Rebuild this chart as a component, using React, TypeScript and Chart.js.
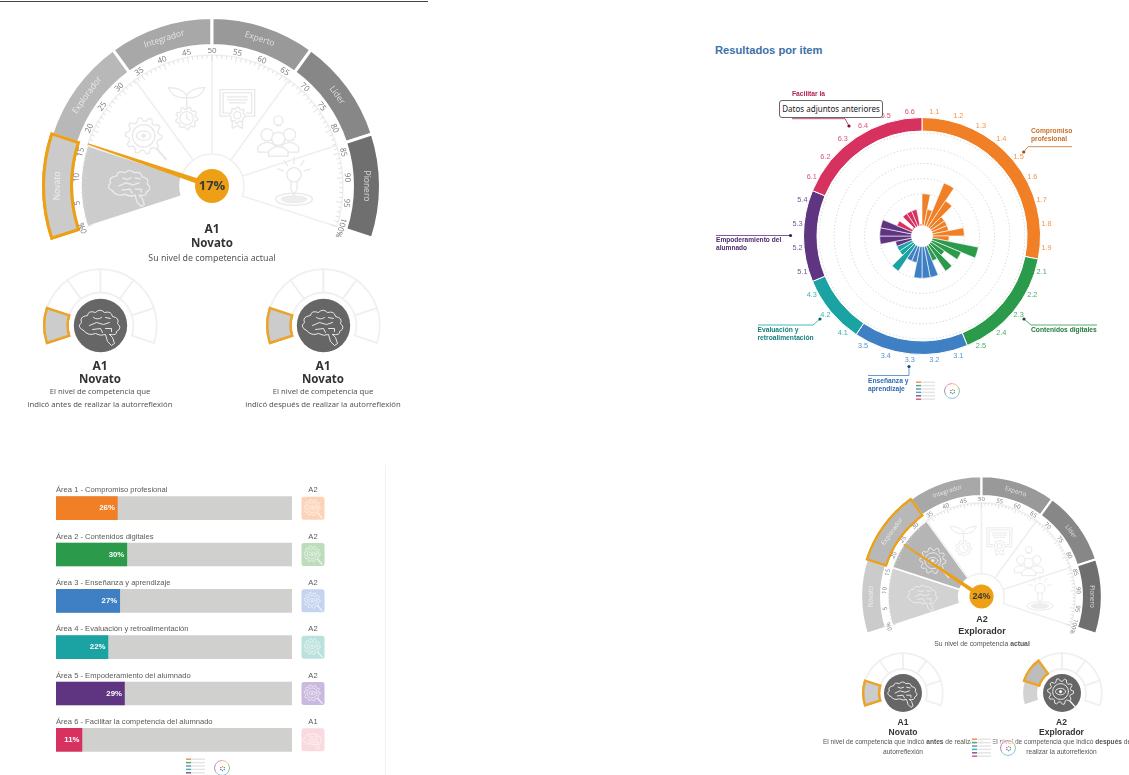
import React, { useEffect, useRef } from "react";
import { Chart, registerables } from "chart.js";

Chart.register(...registerables);

const levelNames = ["Novato", "Explorador", "Integrador", "Experto", "Líder", "Pionero"];
const levelColors = ["#cbcbcb", "#b8b8b8", "#a8a8a8", "#999999", "#878787", "#6f6f6f"];
const levelShares = [1, 1, 1, 1, 1, 1, 4];
const iconNames = ["brain", "gear", "plant", "cert", "people", "bulb"];
const tickLabels = ["0%", "5", "10", "15", "20", "25", "30", "35", "40", "45", "50", "55", "60", "65", "70", "75", "80", "85", "90", "95", "100%"];

const areaNames = [
  "Área 1 - Compromiso profesional",
  "Área 2 - Contenidos digitales",
  "Área 3 - Enseñanza y aprendizaje",
  "Área 4 - Evaluación y retroalimentación",
  "Área 5 - Empoderamiento del alumnado",
  "Área 6 - Facilitar la competencia del alumnado",
];
const areaPercent = [26, 30, 27, 22, 29, 11];
const areaLevel = ["A2", "A2", "A2", "A2", "A2", "A1"];
const areaColors = ["#f07f26", "#2b9a4b", "#3f80c4", "#1ba3a3", "#5f3481", "#d7325f"];
const areaPale = ["#fdd3b8", "#bcdcbc", "#c4d3f0", "#bbe1dd", "#c9b9de", "#f9dade"];
const areaItemCounts = [9, 5, 5, 3, 4, 6];
const areaFull = [100, 100, 100, 100, 100, 100];

const itemCodes = [
  "1.1", "1.2", "1.3", "1.4", "1.5", "1.6", "1.7", "1.8", "1.9",
  "2.1", "2.2", "2.3", "2.4", "2.5",
  "3.1", "3.2", "3.3", "3.4", "3.5",
  "4.1", "4.2", "4.3",
  "5.1", "5.2", "5.3", "5.4",
  "6.1", "6.2", "6.3", "6.4", "6.5", "6.6",
];
const itemValues = [
  33.33, 16.67, 50, 33.33, 16.67, 16.67, 16.67, 33.33, 16.67,
  50, 33.33, 16.67, 33.33, 16.67,
  33.33, 33.33, 33.33, 16.67, 16.67,
  33.33, 16.67, 16.67,
  16.67, 33.33, 33.33, 33.33,
  16.67, 0, 16.67, 16.67, 16.67, 0,
];
const itemGrid = [0, 16.67, 33.33, 50, 66.67, 83.33, 100];

const ORANGE = "#eda015";

const itemColors = itemCodes.map((_, i) => {
  let n = 0;
  for (let a = 0; a < areaItemCounts.length; a++) {
    n += areaItemCounts[a];
    if (i < n) return areaColors[a];
  }
  return areaColors[0];
});

function lobePath(c: any, pts: number[][]) {
  c.beginPath();
  c.moveTo(pts[0][0], pts[0][1]);
  for (let i = 1; i < pts.length; i++) {
    const [x0, y0] = pts[i - 1];
    const [x1, y1] = pts[i];
    const mx = (x0 + x1) / 2, my = (y0 + y1) / 2;
    c.quadraticCurveTo(mx * 1.35, my * 1.35, x1, y1);
  }
  c.stroke();
}

function gearShape(c: any, x: number, y: number, r: number, teeth: number) {
  c.beginPath();
  for (let i = 0; i < teeth * 4; i++) {
    const a = (i / (teeth * 4)) * Math.PI * 2;
    const rr = i % 4 < 2 ? r : r * 0.8;
    const px = x + rr * Math.cos(a), py = y + rr * Math.sin(a);
    if (i === 0) c.moveTo(px, py); else c.lineTo(px, py);
  }
  c.closePath();
  c.stroke();
}

function drawIcon(c: any, name: string, x: number, y: number, s: number, color: string, lw: number, paper = "#ffffff") {
  c.save();
  c.translate(x, y);
  c.scale(s, s);
  c.strokeStyle = color;
  c.fillStyle = color;
  c.lineWidth = lw / s;
  c.lineCap = "round";
  c.lineJoin = "round";
  if (name === "brain") {
    lobePath(c, [[-17, 5], [-19, -3], [-13, -10], [-5, -13], [4, -13], [12, -9], [17, -2], [16, 6], [9, 9]]);
    c.beginPath();
    c.moveTo(-17, 5); c.quadraticCurveTo(-12, 11, -5, 8); c.quadraticCurveTo(0, 11, 5, 9);
    c.lineTo(7, 16); c.lineTo(11, 20); c.lineTo(14, 18); c.lineTo(12, 12); c.lineTo(9, 9);
    c.stroke();
    c.beginPath();
    c.moveTo(-11, 0); c.lineTo(-4, -3); c.lineTo(3, -1); c.lineTo(9, -3);
    c.moveTo(-7, -8); c.quadraticCurveTo(-3, -5, 1, -8); c.moveTo(-8, 4); c.lineTo(0, 3); c.lineTo(2, 7);
    c.moveTo(5, 3); c.lineTo(11, 3); c.lineTo(11, 6); c.moveTo(5, -8); c.lineTo(10, -7);
    c.stroke();
  } else if (name === "gear") {
    gearShape(c, -2, -2, 18, 10);
    c.beginPath(); c.arc(-2, -2, 11, 0, 7); c.stroke();
    c.beginPath(); c.ellipse(-2, -2, 7, 4.5, 0, 0, 7); c.stroke();
    c.beginPath(); c.arc(-2, -2, 2.2, 0, 7); c.fill();
    c.beginPath(); c.moveTo(11, 11); c.lineTo(20, 21); c.lineWidth = (lw * 1.6) / s; c.stroke();
  } else if (name === "plant") {
    c.beginPath();
    c.moveTo(0, 0); c.lineTo(0, -12);
    c.moveTo(0, -12); c.quadraticCurveTo(-4, -20, -18, -20); c.quadraticCurveTo(-14, -9, 0, -10);
    c.moveTo(0, -12); c.quadraticCurveTo(4, -20, 18, -20); c.quadraticCurveTo(14, -9, 0, -10);
    c.stroke();
    gearShape(c, 0, 10, 11, 9);
    c.beginPath(); c.arc(0, 10, 6.5, 0, 7); c.moveTo(0, 6); c.lineTo(0, 10); c.lineTo(3, 12); c.stroke();
  } else if (name === "cert") {
    c.strokeRect(-17, -18, 34, 26);
    c.strokeRect(-14, -15, 28, 20);
    c.beginPath(); c.moveTo(-10, -11); c.lineTo(10, -11); c.moveTo(-10, -8); c.lineTo(10, -8); c.moveTo(-8, -5); c.lineTo(8, -5); c.stroke();
    c.save(); c.fillStyle = paper; c.beginPath(); c.arc(0, 7, 9, 0, 7); c.fill(); c.restore();
    gearShape(c, 0, 7, 8, 8);
    c.beginPath(); c.arc(0, 7, 3.5, 0, 7);
    c.moveTo(-5, 13); c.lineTo(-5, 20); c.lineTo(0, 17); c.lineTo(5, 20); c.lineTo(5, 13); c.stroke();
  } else if (name === "people") {
    c.beginPath(); c.arc(0, -17, 4.5, 0, 7); c.moveTo(-2, -12); c.lineTo(2, -12); c.stroke();
    for (const [px, py, r] of [[-11, -3, 6], [11, -3, 6], [0, 1, 6.5]]) {
      c.save(); c.fillStyle = paper;
      c.beginPath(); c.arc(px, py, r, 0, 7); c.fill(); c.stroke();
      c.beginPath(); c.moveTo(px - r - 3, py + 17); c.lineTo(px - r - 3, py + 12); c.quadraticCurveTo(px, py + 3, px + r + 3, py + 12); c.lineTo(px + r + 3, py + 17);
      c.closePath(); c.fill(); c.stroke(); c.restore();
    }
  } else if (name === "bulb") {
    c.beginPath(); c.arc(0, -11, 7, 0, 7); c.stroke();
    c.beginPath(); c.moveTo(-3, -5); c.lineTo(-3, 3); c.lineTo(0, 9); c.lineTo(3, 3); c.lineTo(3, -5); c.stroke();
    c.beginPath();
    for (const a of [-160, -125, -90, -55, -20]) {
      const t = (a * Math.PI) / 180;
      c.moveTo(11 * Math.cos(t), -11 + 11 * Math.sin(t));
      c.lineTo(17 * Math.cos(t), -11 + 17 * Math.sin(t));
    }
    c.stroke();
    c.beginPath(); c.ellipse(0, 13, 18, 6, 0, 0, 7); c.stroke();
    c.save(); c.globalAlpha = 0.8;
    c.beginPath(); c.ellipse(0, 13, 13, 4, 0, 0, 7); c.fill();
    c.restore();
  }
  c.restore();
}

function useChart(make: (cv: HTMLCanvasElement) => any) {
  const ref = useRef<HTMLCanvasElement | null>(null);
  useEffect(() => {
    if (!ref.current) return;
    const chart = new Chart(ref.current, make(ref.current));
    return () => chart.destroy();
  }, []);
  return ref;
}

const baseOptions = {
  animation: false,
  responsive: false,
  maintainAspectRatio: false,
  events: [],
  plugins: { legend: { display: false }, tooltip: { enabled: false } },
};

function pctAngle(p: number) {
  return ((-108 + p * 2.16 - 90) * Math.PI) / 180;
}

function BigGauge({ cx, cy, k, selected, filled, value, tickFont, bandFont, valueFont }: any) {
  const R = 168.5 * k;
  const W = Math.ceil(2 * R + 3 * k);
  const ref = useChart(() => ({
    type: "doughnut",
    data: {
      labels: [...levelNames, ""],
      datasets: [
        {
          data: levelShares,
          weight: 28,
          backgroundColor: levelShares.map((_, i) => (i < 6 ? levelColors[i] : "transparent")),
          borderColor: levelShares.map((_, i) => (i === 6 ? "transparent" : i === selected ? ORANGE : "#ffffff")),
          borderWidth: levelShares.map((_, i) => (i === 6 ? 0 : 3 * k)),
          borderJoinStyle: "miter",
        },
        { data: levelShares, weight: 9.5, backgroundColor: "transparent", borderWidth: 0 },
        {
          data: levelShares,
          weight: 99,
          backgroundColor: levelShares.map((_, i) => (i < 6 ? filled[i] || "#ffffff" : "transparent")),
          borderColor: levelShares.map((_, i) => (i === 6 ? "transparent" : filled[i] ? "#ffffff" : "#f0f0f0")),
          borderWidth: levelShares.map((_, i) => (i === 6 ? 0 : 1.6)),
          borderJoinStyle: "miter",
        },
      ],
    },
    options: { ...baseOptions, rotation: -108, circumference: 360, cutout: 32 * k },
    plugins: [
      {
        id: "gaugeDetail",
        afterDatasetsDraw(chart: any) {
          const c = chart.ctx;
          const band = chart.getDatasetMeta(0).data;
          const wedges = chart.getDatasetMeta(2).data;
          const x0 = band[0].x, y0 = band[0].y;
          const rT = wedges[0].outerRadius;
          const rB = (band[0].innerRadius + band[0].outerRadius) / 2;
          band[selected].draw(c);
          c.save();
          for (let p = 0; p <= 100; p++) {
            const a = pctAngle(p);
            const len = (p % 5 === 0 ? 6 : 3.6) * k;
            c.strokeStyle = "#d6d6d6";
            c.lineWidth = 0.7;
            c.beginPath();
            c.moveTo(x0 + (rT - len) * Math.cos(a), y0 + (rT - len) * Math.sin(a));
            c.lineTo(x0 + rT * Math.cos(a), y0 + rT * Math.sin(a));
            c.stroke();
          }
          c.textAlign = "center";
          c.textBaseline = "middle";
          c.font = tickFont;
          c.fillStyle = "#7a7a7a";
          tickLabels.forEach((t, i) => {
            const p = i * 5;
            const a = pctAngle(p);
            c.save();
            c.translate(x0 + (rT + 4.5 * k) * Math.cos(a), y0 + (rT + 4.5 * k) * Math.sin(a));
            c.rotate(a + Math.PI / 2);
            c.fillText(t, 0, 0);
            c.restore();
          });
          c.font = bandFont;
          c.fillStyle = "rgba(255,255,255,0.7)";
          levelNames.forEach((t, i) => {
            const a = pctAngle(((i + 0.5) * 100) / 6);
            c.save();
            c.translate(x0 + rB * Math.cos(a), y0 + rB * Math.sin(a));
            c.rotate(a + Math.PI / 2);
            c.fillText(t, 0, 0);
            c.restore();
          });
          iconNames.forEach((n, i) => {
            const a = pctAngle(((i + 0.5) * 100) / 6);
            const col = filled[i] ? "#ececec" : "#e8e8e8";
            drawIcon(c, n, x0 + 82 * k * Math.cos(a), y0 + 82 * k * Math.sin(a), 1.02 * k, col, 1.3 * k, filled[i] || "#ffffff");
          });
          const a = pctAngle(value);
          const nx = Math.cos(a), ny = Math.sin(a);
          c.fillStyle = ORANGE;
          c.beginPath();
          c.moveTo(x0 - ny * 3 * k, y0 + nx * 3 * k);
          c.lineTo(x0 + nx * rT - ny * 0.7, y0 + ny * rT + nx * 0.7);
          c.lineTo(x0 + nx * rT + ny * 0.7, y0 + ny * rT - nx * 0.7);
          c.lineTo(x0 + ny * 3 * k, y0 - nx * 3 * k);
          c.closePath();
          c.fill();
          c.beginPath();
          c.arc(x0, y0, 17 * k, 0, 7);
          c.fill();
          c.fillStyle = "#3a3a3a";
          c.font = valueFont;
          c.fillText(`${value}%`, x0, y0 + 0.5);
          c.restore();
        },
      },
    ],
  }));
  return <canvas ref={ref} width={W} height={W} style={{ position: "absolute", left: cx - W / 2, top: cy - W / 2 }} />;
}

function MiniGauge({ cx, cy, outer, inner, hub, iconScale, selected, filled }: any) {
  const W = Math.ceil(2 * outer + 3);
  const ref = useChart(() => ({
    type: "doughnut",
    data: {
      labels: [...levelNames, ""],
      datasets: [
        {
          data: levelShares,
          backgroundColor: levelShares.map((_, i) => (i < 6 ? filled[i] || "#ffffff" : "transparent")),
          borderColor: levelShares.map((_, i) => (i === 6 ? "transparent" : i === selected ? "#eaa42c" : filled[i] ? "#ffffff" : "#f0f0f0")),
          borderWidth: levelShares.map((_, i) => (i === 6 ? 0 : i === selected ? 2.4 : 1.8)),
          borderJoinStyle: "miter",
        },
      ],
    },
    options: { ...baseOptions, rotation: -108, circumference: 360, cutout: inner },
    plugins: [
      {
        id: "miniDetail",
        afterDatasetsDraw(chart: any) {
          const c = chart.ctx;
          const arcs = chart.getDatasetMeta(0).data;
          arcs[selected].draw(c);
          c.save();
          c.fillStyle = "#666666";
          c.beginPath();
          c.arc(arcs[0].x, arcs[0].y, hub, 0, 7);
          c.fill();
          c.restore();
          drawIcon(c, iconNames[selected], arcs[0].x, arcs[0].y, iconScale, "#f4f4f4", 0.9, "#666666");
        },
      },
    ],
  }));
  return <canvas ref={ref} width={W} height={W} style={{ position: "absolute", left: cx - W / 2, top: cy - W / 2 }} />;
}

const ringLeft = 700;
const ringTop = 85;
const calloutLines = [
  { color: "#c8702a", dot: "#9a4a14", pts: [[1072, 146.7], [1028, 146.7], [1023.7, 152]] },
  { color: "#b5214f", dot: "#7d0a38", pts: [[792, 118.7], [845, 118.7], [849, 126]] },
  { color: "#5f3481", dot: "#3d1a5e", pts: [[716, 235.5], [790.5, 235.5]] },
  { color: "#1ba3a3", dot: "#0d5f63", pts: [[758, 325], [813, 325], [820, 319]] },
  { color: "#3f80c4", dot: "#1b4a80", pts: [[868, 375.5], [909, 375.5], [909, 366.5]] },
  { color: "#2b9a4b", dot: "#14532b", pts: [[1097, 325], [1031, 325], [1024, 319]] },
];

function ItemRing() {
  const ref = useChart(() => ({
    type: "doughnut",
    data: {
      labels: areaNames,
      datasets: [{ data: areaItemCounts, backgroundColor: areaColors, borderColor: "#ffffff", borderWidth: 1 }],
    },
    options: {
      ...baseOptions,
      cutout: 105,
      layout: { padding: { left: 103, right: 69, top: 32, bottom: 55 } },
    },
    plugins: [
      {
        id: "ringLabels",
        afterDatasetsDraw(chart: any) {
          const c = chart.ctx;
          const arc = chart.getDatasetMeta(0).data[0];
          const x0 = arc.x, y0 = arc.y;
          const rL = arc.outerRadius + 6.5;
          c.save();
          c.font = '7.3px "Liberation Sans"';
          c.textAlign = "center";
          c.textBaseline = "middle";
          itemCodes.forEach((t, i) => {
            const a = ((i + 0.5) / itemCodes.length) * Math.PI * 2 - Math.PI / 2;
            c.globalAlpha = 0.85;
            c.fillStyle = itemColors[i];
            c.fillText(t, x0 + rL * Math.cos(a), y0 + rL * Math.sin(a));
          });
          c.globalAlpha = 1;
          c.lineWidth = 0.8;
          for (const l of calloutLines) {
            c.strokeStyle = l.color;
            c.beginPath();
            l.pts.forEach(([x, y], i) => {
              if (i === 0) c.moveTo(x - ringLeft, y - ringTop);
              else c.lineTo(x - ringLeft, y - ringTop);
            });
            c.stroke();
            const [dx, dy] = l.pts[l.pts.length - 1];
            c.fillStyle = l.dot;
            c.beginPath();
            c.arc(dx - ringLeft, dy - ringTop, 1.6, 0, 7);
            c.fill();
          }
          c.restore();
        },
      },
    ],
  }));
  return <canvas ref={ref} width={410} height={325} style={{ position: "absolute", left: ringLeft, top: ringTop }} />;
}

function ItemPolar() {
  const ref = useChart(() => ({
    type: "polarArea",
    data: {
      labels: itemCodes,
      datasets: [{ data: itemValues, backgroundColor: itemColors, borderColor: "rgba(255,255,255,0.75)", borderWidth: 0.8 }],
    },
    options: {
      ...baseOptions,
      scales: {
        r: {
          min: -13,
          max: 100,
          afterBuildTicks(scale: any) {
            scale.ticks = itemGrid.map((value) => ({ value }));
          },
          ticks: { display: false },
          angleLines: { display: false },
          pointLabels: { display: false },
          grid: {
            circular: true,
            lineWidth: 0.8,
            color: (ctx: any) => (ctx.tick && ctx.tick.value === 0 ? "transparent" : "#c6c6c6"),
          },
          border: { dash: [1.2, 2.2] },
        },
      },
    },
    plugins: [
      {
        id: "polarHub",
        afterDatasetsDraw(chart: any) {
          const s = chart.scales.r;
          const c = chart.ctx;
          c.save();
          c.fillStyle = "#ffffff";
          c.beginPath();
          c.arc(s.xCenter, s.yCenter, s.getDistanceFromCenterForValue(0) - 1, 0, 7);
          c.fill();
          c.restore();
        },
      },
    ],
  }));
  return <canvas ref={ref} width={206} height={206} style={{ position: "absolute", left: 819, top: 133 }} />;
}

function AreaBars() {
  const ref = useChart(() => ({
    type: "bar",
    data: {
      labels: areaNames,
      datasets: [
        { data: areaPercent, backgroundColor: areaColors, barThickness: 23, grouped: false },
        { data: areaFull, backgroundColor: "#d0d0ce", barThickness: 23, grouped: false },
      ],
    },
    options: {
      ...baseOptions,
      indexAxis: "y",
      layout: { padding: { left: 6, right: 88, top: 0, bottom: 0 } },
      scales: {
        x: { display: false, min: 0, max: 100 },
        y: { display: false },
      },
    },
    plugins: [
      {
        id: "barText",
        afterDatasetsDraw(chart: any) {
          const c = chart.ctx;
          const xs = chart.scales.x, ys = chart.scales.y;
          c.save();
          c.textBaseline = "middle";
          areaNames.forEach((n, i) => {
            const y = ys.getPixelForValue(i);
            const sq = xs.right + 9.5;
            c.font = '7.6px "Liberation Sans"';
            c.fillStyle = "#5a5a5a";
            c.textAlign = "left";
            c.fillText(n, xs.left, y - 17.8);
            c.textAlign = "center";
            c.fillText(areaLevel[i], sq + 11.5, y - 17.8);
            c.fillStyle = areaPale[i];
            c.beginPath();
            c.roundRect(sq, y - 11.5, 23, 23, 2.5);
            c.fill();
            drawIcon(c, areaLevel[i] === "A2" ? "gear" : "brain", sq + 11.5, y + 0.3, 0.45, "rgba(255,255,255,0.7)", 0.8, areaPale[i]);
            c.font = 'bold 7.8px "Liberation Sans"';
            c.fillStyle = "#ffffff";
            c.textAlign = "right";
            c.fillText(`${areaPercent[i]}%`, xs.getPixelForValue(areaPercent[i]) - 2.5, y);
          });
          c.restore();
        },
      },
    ],
  }));
  return <canvas ref={ref} width={330} height={278} style={{ position: "absolute", left: 50, top: 485 }} />;
}

function Thumb({ x, y }: any) {
  const ref = useRef<HTMLCanvasElement | null>(null);
  useEffect(() => {
    const c = ref.current && ref.current.getContext("2d");
    if (!c) return;
    c.fillStyle = "rgba(255,255,255,0.85)";
    c.fillRect(0, 0, 22, 22);
    areaColors.forEach((col, i) => {
      c.fillStyle = "#e4e4e4";
      c.fillRect(1, 1.5 + i * 3.4, 19, 1.4);
      c.fillStyle = col;
      c.globalAlpha = 0.8;
      c.fillRect(1, 1.5 + i * 3.4, 5, 1.4);
      c.globalAlpha = 1;
    });
    c.fillStyle = "rgba(255,255,255,0.6)";
    c.beginPath();
    c.arc(37, 11, 9.5, 0, 7);
    c.fill();
    areaColors.forEach((col, i) => {
      c.strokeStyle = col;
      c.globalAlpha = 0.6;
      c.lineWidth = 0.9;
      c.beginPath();
      c.arc(37, 11, 7.5, (i / 6) * 6.283 - 1.57, ((i + 1) / 6) * 6.283 - 1.57);
      c.stroke();
      c.globalAlpha = 0.9;
      c.fillStyle = col;
      const a = (i / 6) * 6.283 - 1.57;
      c.fillRect(37 + 2 * Math.cos(a), 11 + 2 * Math.sin(a), 1.2, 1.2);
      c.globalAlpha = 1;
    });
  }, []);
  return <canvas ref={ref} width={48} height={22} style={{ position: "absolute", left: x, top: y }} />;
}

const sans = '"Liberation Sans", sans-serif';
const noto = '"Noto Sans", sans-serif';

function T({ x, y, size, bold, color, font, align, children }: any) {
  const tr = align === "left" ? "translate(0,-50%)" : "translate(-50%,-50%)";
  return (
    <div
      style={{
        position: "absolute",
        left: x,
        top: y,
        transform: tr,
        whiteSpace: "nowrap",
        fontSize: size,
        fontWeight: bold ? 700 : 400,
        color: color || "#444",
        fontFamily: font || noto,
        lineHeight: 1,
      }}
    >
      {children}
    </div>
  );
}

export default function App() {
  return (
    <div style={{ position: "fixed", left: 0, top: 0, width: 1129, height: 775, overflow: "hidden", background: "#fff", filter: "blur(0.6px)" }}>
      <div style={{ position: "absolute", left: 0, top: 0.5, width: 428, height: 1, background: "#444" }} />
      <div style={{ position: "absolute", left: 385, top: 465, width: 1, height: 310, background: "#f1f1f1" }} />

      <BigGauge cx={212} cy={186} k={1} selected={0} filled={["#cccccc"]} value={17} tickFont='8px "Open Sans"' bandFont='8.5px "Open Sans"' valueFont='bold 13px "Open Sans"' />
      <T x={212} y={229} size={12} bold color="#333">A1</T>
      <T x={212} y={243} size={11.5} bold color="#333">Novato</T>
      <T x={212} y={257.5} size={8.8} color="#555">Su nivel de competencia actual</T>

      <MiniGauge cx={100.3} cy={325} outer={56} inner={33} hub={26.7} iconScale={1} selected={0} filled={["#cccccc"]} />
      <MiniGauge cx={323.3} cy={325} outer={56} inner={33} hub={26.7} iconScale={1} selected={0} filled={["#cccccc"]} />
      <T x={100} y={366} size={12} bold color="#333">A1</T>
      <T x={100} y={379} size={11.5} bold color="#333">Novato</T>
      <T x={100} y={392} size={7.7} color="#555">El nivel de competencia que</T>
      <T x={100} y={405} size={7.7} color="#555">indicó antes de realizar la autorreflexión</T>
      <T x={323} y={366} size={12} bold color="#333">A1</T>
      <T x={323} y={379} size={11.5} bold color="#333">Novato</T>
      <T x={323} y={392} size={7.7} color="#555">El nivel de competencia que</T>
      <T x={323} y={405} size={7.7} color="#555">indicó después de realizar la autorreflexión</T>

      <T x={715} y={50.5} size={11.2} bold color="#3d70a8" font={sans} align="left">Resultados por item</T>
      <ItemRing />
      <ItemPolar />
      <T x={792} y={94} size={6.7} bold color="#b5214f" font={sans} align="left">Facilitar la</T>
      <div style={{ position: "absolute", left: 779, top: 100, width: 102, height: 16, border: "1px solid #666", borderRadius: 3, background: "#fff", color: "#222", fontFamily: noto, fontSize: 8, lineHeight: "16px", textAlign: "center", whiteSpace: "nowrap" }}>Datos adjuntos anteriores</div>
      <T x={1031} y={131} size={6.7} bold color="#c8702a" font={sans} align="left">Compromiso</T>
      <T x={1031} y={139} size={6.7} bold color="#c8702a" font={sans} align="left">profesional</T>
      <T x={716} y={240} size={6.6} bold color="#4d2a6e" font={sans} align="left">Empoderamiento del</T>
      <T x={716} y={248.3} size={6.6} bold color="#4d2a6e" font={sans} align="left">alumnado</T>
      <T x={757.5} y={330} size={6.7} bold color="#14807f" font={sans} align="left">Evaluación y</T>
      <T x={757.5} y={338} size={6.7} bold color="#14807f" font={sans} align="left">retroalimentación</T>
      <T x={868} y={381} size={6.7} bold color="#2f6bab" font={sans} align="left">Enseñanza y</T>
      <T x={868} y={389} size={6.7} bold color="#2f6bab" font={sans} align="left">aprendizaje</T>
      <T x={1031} y={330} size={6.7} bold color="#1e7a3a" font={sans} align="left">Contenidos digitales</T>
      <Thumb x={915} y={380} />

      <AreaBars />
      <Thumb x={185} y={757} />

      <BigGauge cx={981.7} cy={596} k={0.7126} selected={1} filled={["#d2d2d2", "#b5b5b5"]} value={24} tickFont='6px "Open Sans"' bandFont='6.2px "Open Sans"' valueFont='bold 9px "Liberation Sans"' />
      <T x={982} y={619} size={9} bold color="#333" font={sans}>A2</T>
      <T x={982} y={631} size={9} bold color="#333" font={sans}>Explorador</T>
      <T x={982} y={644} size={6.8} color="#555" font={sans}>Su nivel de competencia <b>actual</b></T>

      <MiniGauge cx={903.3} cy={693.3} outer={39.5} inner={24} hub={19} iconScale={0.72} selected={0} filled={["#cccccc"]} />
      <MiniGauge cx={1061.7} cy={693.3} outer={39.5} inner={24} hub={19} iconScale={0.72} selected={1} filled={["#d2d2d2", "#bdbdbd"]} />
      <T x={903} y={722} size={8.5} bold color="#333" font={sans}>A1</T>
      <T x={903} y={731.5} size={8.5} bold color="#333" font={sans}>Novato</T>
      <T x={903} y={742} size={6.6} color="#555" font={sans}>El nivel de competencia que indicó <b>antes</b> de realizar la</T>
      <T x={903} y={752} size={6.6} color="#555" font={sans}>autorreflexión</T>
      <T x={1061.5} y={722} size={8.5} bold color="#333" font={sans}>A2</T>
      <T x={1061.5} y={731.5} size={8.5} bold color="#333" font={sans}>Explorador</T>
      <T x={1061.5} y={742} size={6.6} color="#555" font={sans}>El nivel de competencia que indicó <b>después</b> de</T>
      <T x={1061.5} y={752} size={6.6} color="#555" font={sans}>realizar la autorreflexión</T>
      <Thumb x={971} y={737} />
    </div>
  );
}
